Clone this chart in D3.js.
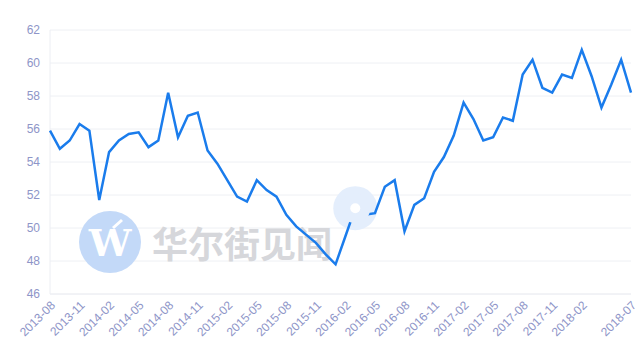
<!DOCTYPE html>
<html>
<head>
<meta charset="utf-8">
<script src="https://cdn.jsdelivr.net/npm/d3@7"></script>
<style>
  body { margin: 0; background: #fff; }
  svg { display: block; }
</style>
</head>
<body>
<div id="chart"></div>
<script>
// monthly values, 2013-08 .. 2018-07
var months = [];
for (var k = 0; k < 60; k++) {
  var yy = 2013 + Math.floor((7 + k) / 12), mm = (7 + k) % 12 + 1;
  months.push(yy + "-" + (mm < 10 ? "0" + mm : mm));
}
var values = [
  55.9, 54.8, 55.3, 56.3, 55.9, 51.7, 54.6, 55.3, 55.7, 55.8,
  54.9, 55.3, 58.2, 55.5, 56.8, 57.0, 54.7, 53.9, 52.9, 51.9,
  51.6, 52.9, 52.3, 51.9, 50.8, 50.1, 49.6, 49.1, 48.4, 47.8,
  49.5, 51.2, 50.8, 50.9, 52.5, 52.9, 49.8, 51.4, 51.8, 53.4,
  54.3, 55.6, 57.6, 56.6, 55.3, 55.5, 56.7, 56.5, 59.3, 60.2,
  58.5, 58.2, 59.3, 59.1, 60.8, 59.2, 57.3, 58.7, 60.2, 58.2
];
var yTicks = [46, 48, 50, 52, 54, 56, 58, 60, 62];
var xTickLabels = ["2013-08", "2013-11", "2014-02", "2014-05", "2014-08", "2014-11",
  "2015-02", "2015-05", "2015-08", "2015-11", "2016-02", "2016-05", "2016-08",
  "2016-11", "2017-02", "2017-05", "2017-08", "2017-11", "2018-02", "2018-07"];
var hoverIndex = 31;

var W = 638, H = 356;
var margin = {left: 50, right: 7, top: 30, bottom: 62};

var svg = d3.select("#chart").append("svg")
    .attr("width", W).attr("height", H);

var x = d3.scalePoint().domain(months).range([margin.left, W - margin.right]);
var y = d3.scaleLinear().domain([46, 62]).range([H - margin.bottom, margin.top]);

var labelColor = "#8e95c8";

// grid
svg.append("g").selectAll("line")
  .data(yTicks)
  .enter().append("line")
    .attr("x1", margin.left).attr("x2", W - margin.right)
    .attr("y1", function(d) { return y(d); })
    .attr("y2", function(d) { return y(d); })
    .attr("stroke", "#eef0f4").attr("stroke-width", 1);

// axis lines
svg.append("line")
  .attr("x1", margin.left).attr("x2", margin.left)
  .attr("y1", margin.top).attr("y2", H - margin.bottom)
  .attr("stroke", "#eceef3");
svg.append("line")
  .attr("x1", margin.left).attr("x2", W - margin.right)
  .attr("y1", H - margin.bottom).attr("y2", H - margin.bottom)
  .attr("stroke", "#eceef3");

// y labels
svg.append("g").selectAll("text")
  .data(yTicks)
  .enter().append("text")
    .attr("x", margin.left - 10)
    .attr("y", function(d) { return y(d); })
    .attr("dy", "0.35em")
    .attr("text-anchor", "end")
    .attr("font-family", "Arial, 'Liberation Sans', sans-serif")
    .attr("font-size", 12)
    .attr("fill", labelColor)
    .text(function(d) { return d; });

// x labels
svg.append("g").selectAll("text")
  .data(xTickLabels)
  .enter().append("text")
    .attr("transform", function(d) {
      return "translate(" + (x(d) + 3) + "," + (H - margin.bottom + 9) + ") rotate(-45)";
    })
    .attr("text-anchor", "end")
    .attr("dy", "0.35em")
    .attr("font-family", "Arial, 'Liberation Sans', sans-serif")
    .attr("font-size", 12)
    .attr("fill", labelColor)
    .text(function(d) { return d; });

// watermark
var wm = svg.append("g");
wm.append("circle").attr("cx", 110).attr("cy", 242).attr("r", 31)
  .attr("fill", "#c3d9f8");
wm.append("text")
  .attr("x", 110).attr("y", 256)
  .attr("text-anchor", "middle")
  .attr("font-family", "'DejaVu Serif', serif")
  .attr("font-weight", "bold")
  .attr("font-size", 38)
  .attr("fill", "#fff")
  .text("W");
wm.append("line")
  .attr("x1", 113).attr("y1", 228).attr("x2", 122).attr("y2", 220)
  .attr("stroke", "#fff").attr("stroke-width", 3);
wm.append("text")
  .attr("x", 152).attr("y", 258)
  .attr("font-family", "'Noto Sans CJK SC', sans-serif")
  .attr("font-weight", "bold")
  .attr("font-size", 36)
  .attr("fill", "#d6d7db")
  .text("华尔街见闻");

// hover halo (behind line)
var hx = x(months[hoverIndex]), hy = y(values[hoverIndex]);
svg.append("circle").attr("cx", hx).attr("cy", hy).attr("r", 22)
  .attr("fill", "#e4eefc");

// line
var line = d3.line()
  .x(function(d, i) { return x(months[i]); })
  .y(function(d) { return y(d); });

svg.append("path")
  .datum(values)
  .attr("d", line)
  .attr("fill", "none")
  .attr("stroke", "#1a7cec")
  .attr("stroke-width", 2.5)
  .attr("stroke-linejoin", "miter");

// hover halo inner part + symbol
svg.append("circle").attr("cx", hx).attr("cy", hy).attr("r", 15)
  .attr("fill", "#e4eefc");
svg.append("circle").attr("cx", hx).attr("cy", hy).attr("r", 5)
  .attr("fill", "#fff");
</script>
</body>
</html>
